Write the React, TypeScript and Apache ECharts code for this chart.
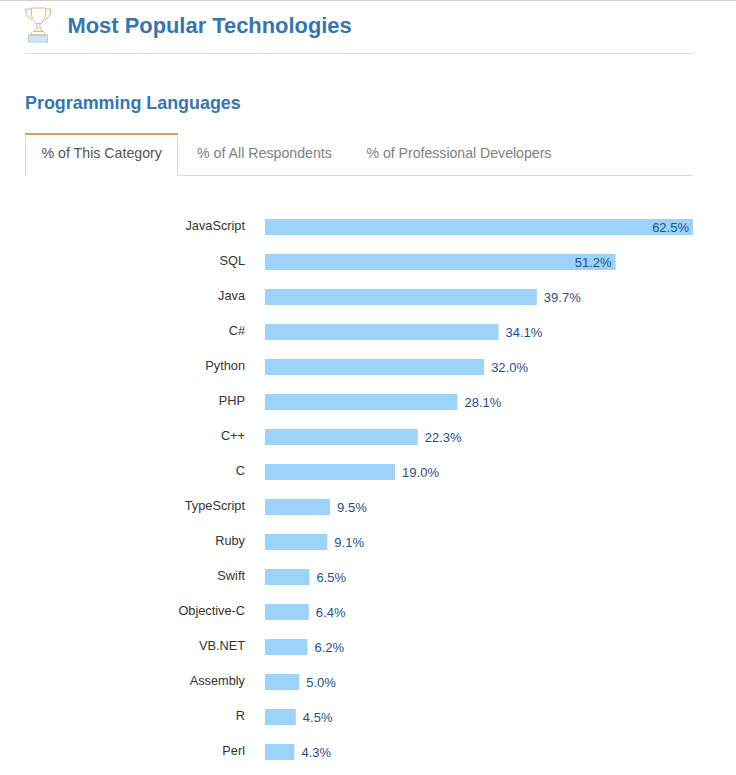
import React, { useEffect, useRef } from "react";
import * as echarts from "echarts";

const categories = ["JavaScript", "SQL", "Java", "C#", "Python", "PHP", "C++", "C", "TypeScript", "Ruby", "Swift", "Objective-C", "VB.NET", "Assembly", "R", "Perl"];
const values = [62.5, 51.2, 39.7, 34.1, 32.0, 28.1, 22.3, 19.0, 9.5, 9.1, 6.5, 6.4, 6.2, 5.0, 4.5, 4.3];
const pageTitle = "Most Popular Technologies";
const sectionTitle = "Programming Languages";
const tabs = ["% of This Category", "% of All Respondents", "% of Professional Developers"];
const insideThreshold = 50;

const FONT = "'Liberation Sans', Arial, sans-serif";
const ORANGE = "#e9b27c";
const GREY = "#dcdcdc";

export default function App() {
  const ref = useRef<HTMLDivElement>(null);
  useEffect(() => {
    document.body.style.margin = "0";
    const chart = echarts.init(ref.current!, undefined, { renderer: "svg" });
    chart.setOption({
      animation: false,
      backgroundColor: "#fff",
      grid: { left: 265, top: 209.5, width: 428, height: 560, containLabel: false },
      xAxis: { type: "value", min: 0, max: 62.5, show: false },
      yAxis: {
        type: "category",
        inverse: true,
        data: categories,
        axisLine: { show: false },
        axisTick: { show: false },
        axisLabel: {
          margin: 20,
          fontFamily: FONT,
          fontSize: 12.75,
          color: "#333",
          verticalAlign: "bottom",
          lineHeight: 4,
        },
      },
      series: [
        {
          type: "bar",
          barWidth: 16,
          itemStyle: { color: "#9bd3fb" },
          data: values.map((v) => ({
            value: v,
            label: v > insideThreshold
              ? { position: "insideRight", distance: 4 }
              : { position: "right", distance: 7 },
          })),
          label: {
            show: true,
            fontFamily: FONT,
            fontSize: 13,
            color: "#1f4e8c",
            offset: [0, 0.5],
            formatter: (p: any) => `${Number(p.value).toFixed(1)}%`,
          },
        },
      ],
      graphic: [
        { type: "rect", shape: { x: 0, y: 0, width: 736, height: 1 }, style: { fill: "#d0d0d0" } },
        // trophy cup
        { type: "polyline", shape: { points: [[31, 8], [46, 8], [45, 18], [41, 23.5], [36, 23.5], [32, 18], [31, 8]] }, style: { fill: "none", stroke: ORANGE, lineWidth: 1 } },
        { type: "polyline", shape: { points: [[31, 9], [25.5, 9], [26.5, 15], [32, 20]] }, style: { fill: "none", stroke: ORANGE, lineWidth: 1 } },
        { type: "polyline", shape: { points: [[46, 9], [51, 9], [50, 15], [45, 20]] }, style: { fill: "none", stroke: ORANGE, lineWidth: 1 } },
        { type: "polyline", shape: { points: [[37, 24], [37, 29], [33.5, 31.5], [43.5, 31.5], [40, 29], [40, 24]] }, style: { fill: "none", stroke: ORANGE, lineWidth: 1 } },
        { type: "rect", shape: { x: 28.5, y: 35, width: 19, height: 7 }, style: { fill: "#cfe6f7", stroke: "#a9cfe8", lineWidth: 1 } },
        { type: "polyline", shape: { points: [[32, 32], [30, 35], [46, 35], [44, 32]] }, style: { fill: "none", stroke: ORANGE, lineWidth: 1 } },
        // headings
        { type: "text", x: 67.5, y: 25, style: { text: pageTitle, fill: "#3775ae", font: `bold 21.9px ${FONT}`, textVerticalAlign: "middle" } },
        { type: "rect", shape: { x: 25, y: 53, width: 668, height: 1 }, style: { fill: GREY } },
        { type: "text", x: 25, y: 103, style: { text: sectionTitle, fill: "#3775ae", font: `bold 17.9px ${FONT}`, textVerticalAlign: "middle" } },
        // tabs
        { type: "rect", shape: { x: 178, y: 175, width: 515, height: 1 }, style: { fill: GREY } },
        { type: "rect", shape: { x: 25, y: 134, width: 1, height: 42 }, style: { fill: GREY } },
        { type: "rect", shape: { x: 177, y: 134, width: 1, height: 42 }, style: { fill: GREY } },
        { type: "rect", shape: { x: 25, y: 133, width: 153, height: 2 }, style: { fill: "#dda24f" } },
        { type: "text", x: 41.5, y: 153, style: { text: tabs[0], fill: "#555", font: `14.2px ${FONT}`, textVerticalAlign: "middle" } },
        { type: "text", x: 197, y: 153, style: { text: tabs[1], fill: "#808080", font: `14.2px ${FONT}`, textVerticalAlign: "middle" } },
        { type: "text", x: 366.5, y: 153, style: { text: tabs[2], fill: "#808080", font: `14.1px ${FONT}`, textVerticalAlign: "middle" } },
      ],
    });
    return () => chart.dispose();
  }, []);
  return <div ref={ref} style={{ width: 736, height: 775 }} />;
}
